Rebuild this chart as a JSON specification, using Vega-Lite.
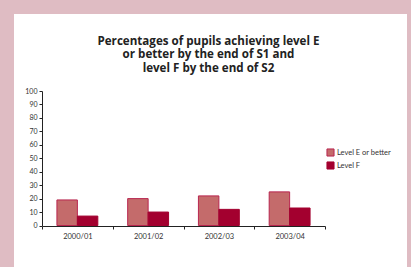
{
  "$schema": "https://vega.github.io/schema/vega-lite/v6.json",
  "autosize": "none",
  "width": 393,
  "height": 253,
  "padding": {"left": 14, "top": 14, "right": 4, "bottom": 0},
  "background": "#dfbcc3",
  "config": {
    "view": {"fill": "white", "stroke": null},
    "font": "Lato"
  },
  "title": {
    "text": ["Percentages of pupils achieving level E", "or better by the end of S1 and", "level F by the end of S2"],
    "anchor": "middle",
    "orient": "top",
    "baseline": "top",
    "offset": 0,
    "dy": 60.5,
    "dx": -2,
    "fontSize": 11.6,
    "fontWeight": "bold",
    "lineHeight": 13.5,
    "color": "#222222",
    "font": "Open Sans"
  },
  "data": {
    "values": [
      {"year": "2000/01", "series": "Level  E or better", "value": 19},
      {"year": "2000/01", "series": "Level F", "value": 7},
      {"year": "2001/02", "series": "Level  E or better", "value": 20},
      {"year": "2001/02", "series": "Level F", "value": 10},
      {"year": "2002/03", "series": "Level  E or better", "value": 22},
      {"year": "2002/03", "series": "Level F", "value": 12},
      {"year": "2003/04", "series": "Level  E or better", "value": 25},
      {"year": "2003/04", "series": "Level F", "value": 13}
    ]
  },
  "mark": {"type": "bar", "strokeWidth": 1},
  "encoding": {
    "x": {
      "field": "year",
      "type": "nominal",
      "sort": null,
      "scale": {"range": [28, 311], "paddingInner": 0, "paddingOuter": 0},
      "axis": {
        "title": null,
        "labelAngle": 0,
        "offset": -41,
        "tickBand": "extent",
        "tickSize": 3,
        "tickColor": "#222222",
        "domainColor": "#222222",
        "domainWidth": 1.2,
        "labelFontSize": 7.5,
        "labelColor": "#333333",
        "labelPadding": 3,
        "labelFont": "Lato"
      }
    },
    "xOffset": {
      "field": "series",
      "type": "nominal",
      "scale": {"paddingInner": 0, "paddingOuter": 0.73}
    },
    "y": {
      "field": "value",
      "type": "quantitative",
      "scale": {"domain": [0, 100], "range": [211.5, 77], "nice": false},
      "axis": {
        "title": null,
        "offset": -28,
        "values": [0, 10, 20, 30, 40, 50, 60, 70, 80, 90, 100],
        "grid": false,
        "tickSize": 3,
        "tickColor": "#222222",
        "domainColor": "#222222",
        "labelFontSize": 7,
        "labelColor": "#333333",
        "labelPadding": 2,
        "labelFont": "Lato"
      }
    },
    "fill": {
      "field": "series",
      "type": "nominal",
      "scale": {"range": ["#c46b6b", "#a3002f"]},
      "legend": {
        "title": null,
        "orient": "none",
        "legendX": 312,
        "legendY": 134,
        "symbolType": "square",
        "symbolSize": 50,
        "symbolStrokeWidth": 1,
        "labelFontSize": 7.5,
        "labelColor": "#333333",
        "labelFont": "Lato",
        "rowPadding": 0,
        "labelOffset": 2
      }
    },
    "stroke": {
      "field": "series",
      "type": "nominal",
      "scale": {"range": ["#b8264f", "#a3002f"]},
      "legend": null
    }
  }
}
